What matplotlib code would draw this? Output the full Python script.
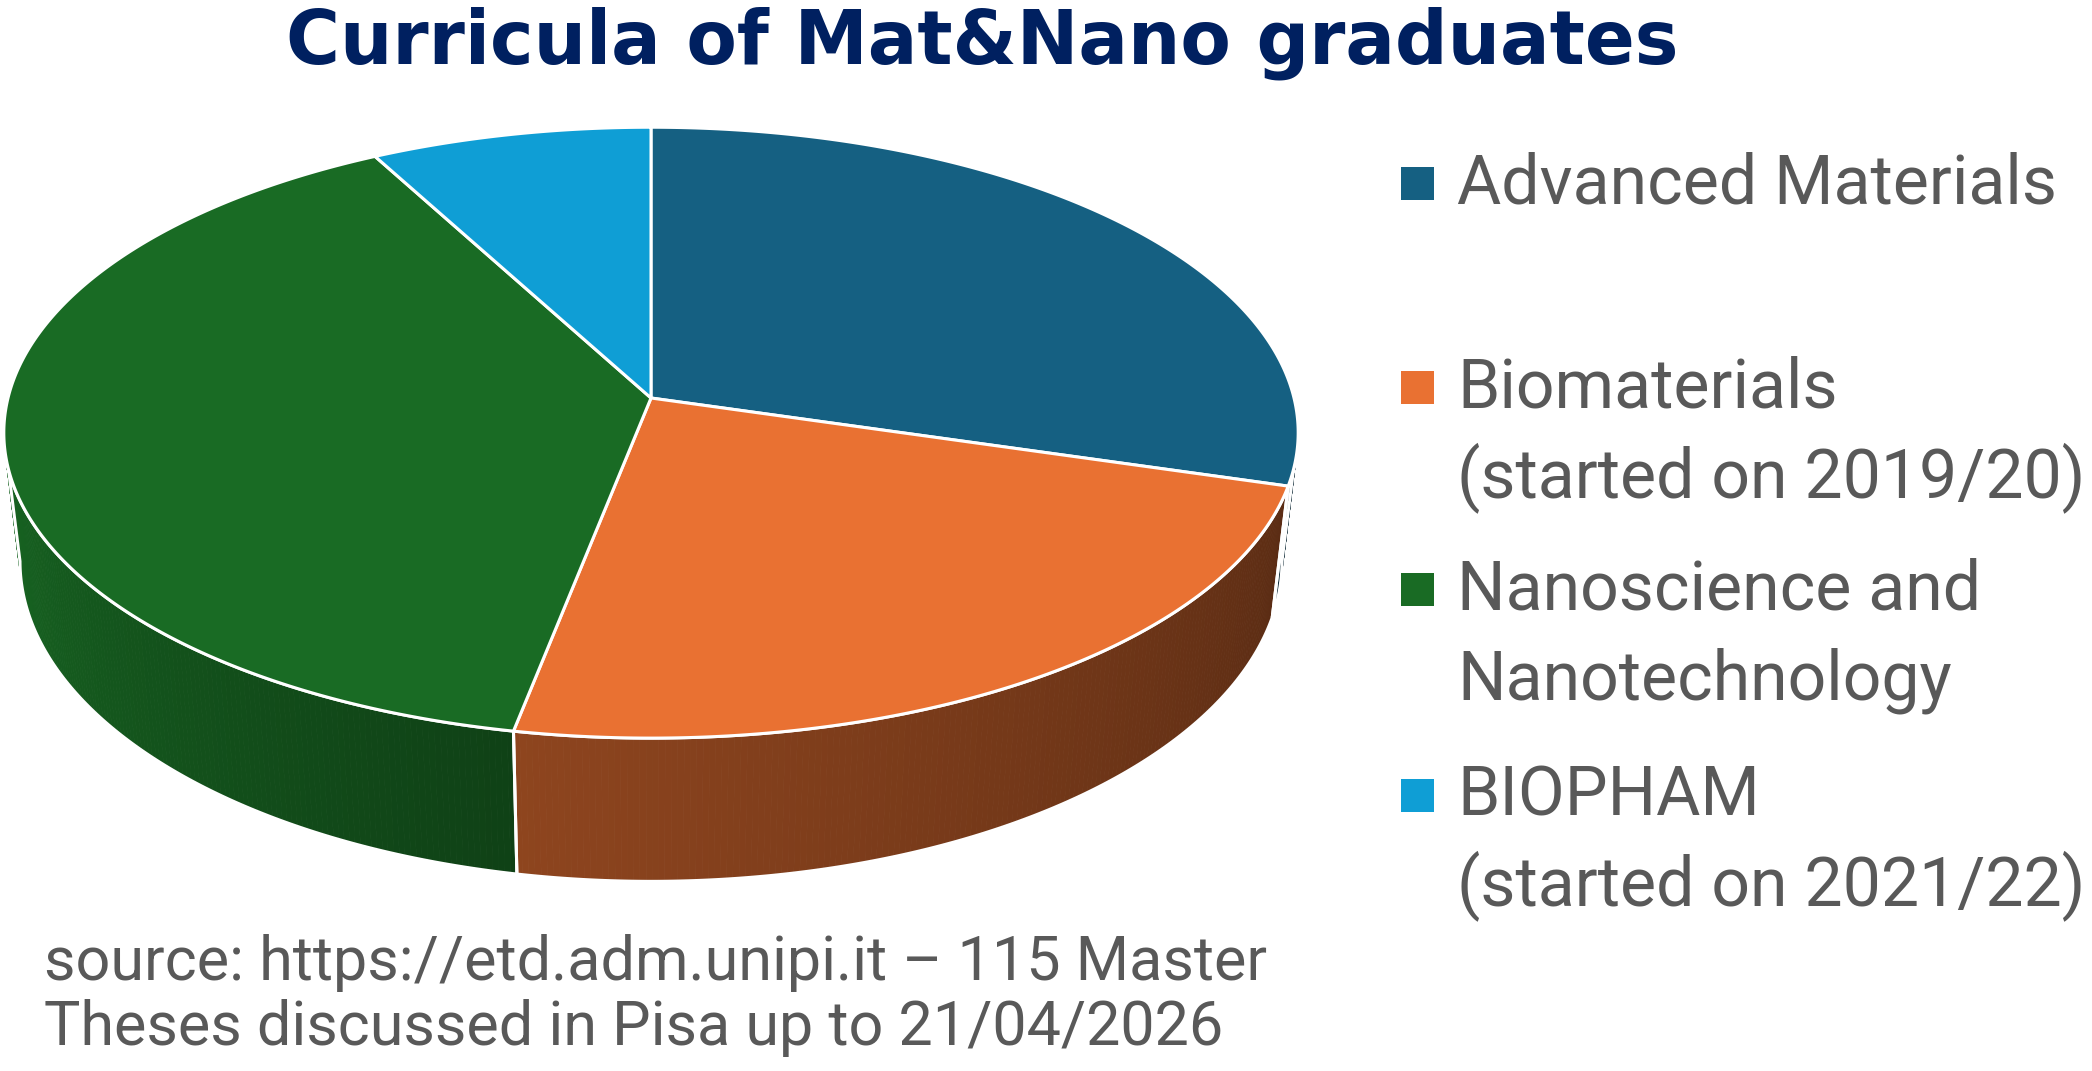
import numpy as np
import matplotlib
matplotlib.use("Agg")
import matplotlib.pyplot as plt
from matplotlib.patches import Polygon, Rectangle
from matplotlib import font_manager
import matplotlib.colors as mcolors

# data
categories = ["Advanced Materials",
              "Biomaterials\n(started on 2019/20)",
              "Nanoscience and\nNanotechnology",
              "BIOPHAM\n(started on 2021/22)"]
theses = [34, 27, 45, 9]
colors = ["#156082", "#E97132", "#196B24", "#0F9ED5"]
title = "Curricula of Mat&Nano graduates"
note = "source: https://etd.adm.unipi.it \u2013 115 Master\nTheses discussed in Pisa up to 21/04/2026"

installed = {f.name for f in font_manager.fontManager.ttflist}
main_font = "Roboto" if "Roboto" in installed else "DejaVu Sans"
narrow_font = "Liberation Sans Narrow" if "Liberation Sans Narrow" in installed else main_font

# pie geometry in pixels (3D look with a bit of perspective)
X0, Y0 = 651, 398
A, B, K = 643, 301.5, 0.1135
DEPTH = 127
SHRINK = 0.975


def rim(phi_deg, bottom=False):
    # phi measured clockwise from 12 o'clock
    phi = np.radians(phi_deg)
    u = np.sin(phi)
    v = -np.cos(phi)
    w = 1 - K * v
    x = X0 + A * u / w
    y = Y0 + B * v / w
    if bottom:
        x = X0 + (x - X0) * SHRINK
        y = y + DEPTH / w
    return x, y


def shade(phi):
    return np.interp(phi, [96.5, 191, 263.5], [0.36, 0.61, 0.95])


fig = plt.figure(figsize=(20.92, 10.71), dpi=100)
ax = fig.add_axes([0, 0, 1, 1])
ax.set_xlim(0, 2092)
ax.set_ylim(1071, 0)
ax.axis("off")

total = sum(theses)
bounds = np.concatenate([[0], np.cumsum(theses) / total * 360])
vis_lo, vis_hi = np.degrees(np.arccos(-K)), 360 - np.degrees(np.arccos(-K))

# side walls
for i, col in enumerate(colors):
    s, e = max(bounds[i], vis_lo), min(bounds[i + 1], vis_hi)
    if e <= s:
        continue
    base = np.array(mcolors.to_rgb(col))
    edges = np.linspace(s, e, max(3, int((e - s) * 2)))
    for p0, p1 in zip(edges[:-1], edges[1:]):
        tx, ty = rim(np.array([p0, p1]))
        bx, by = rim(np.array([p1, p0]), bottom=True)
        c = base * shade((p0 + p1) / 2)
        ax.add_patch(Polygon(np.column_stack([np.r_[tx, bx], np.r_[ty, by]]),
                             facecolor=c, edgecolor=c, linewidth=0.6, zorder=1))
    arc = np.linspace(s, e, 200)
    tx, ty = rim(arc)
    bx, by = rim(arc[::-1], bottom=True)
    ax.add_patch(Polygon(np.column_stack([np.r_[tx, bx], np.r_[ty, by]]),
                         facecolor="none", edgecolor="white", linewidth=2.2,
                         joinstyle="round", zorder=2))

# top face
for i, col in enumerate(colors):
    arc = np.linspace(bounds[i], bounds[i + 1], 300)
    tx, ty = rim(arc)
    ax.add_patch(Polygon(np.column_stack([np.r_[X0, tx], np.r_[Y0, ty]]),
                         facecolor=col, edgecolor="white", linewidth=2.2,
                         joinstyle="round", zorder=3))

# title
ax.text(982, 63, title, ha="center", va="baseline", fontsize=53,
        fontweight="bold", color="#002060", family="DejaVu Sans")

# legend
first_baselines = [204, 408, 610, 816]
for lab, col, yb in zip(categories, colors, first_baselines):
    ax.add_patch(Rectangle((1401, yb - 37), 33, 33, facecolor=col, edgecolor="none"))
    for j, line in enumerate(lab.split("\n")):
        ax.text(1457, yb + j * 89, line, ha="left", va="baseline", fontsize=49,
                color="#595959", family=main_font)

# source note
for j, line in enumerate(note.split("\n")):
    ax.text(44, 980 + j * 65, line, ha="left", va="baseline", fontsize=44,
            color="#595959", family=narrow_font)

fig.savefig("out.png", dpi=100)
